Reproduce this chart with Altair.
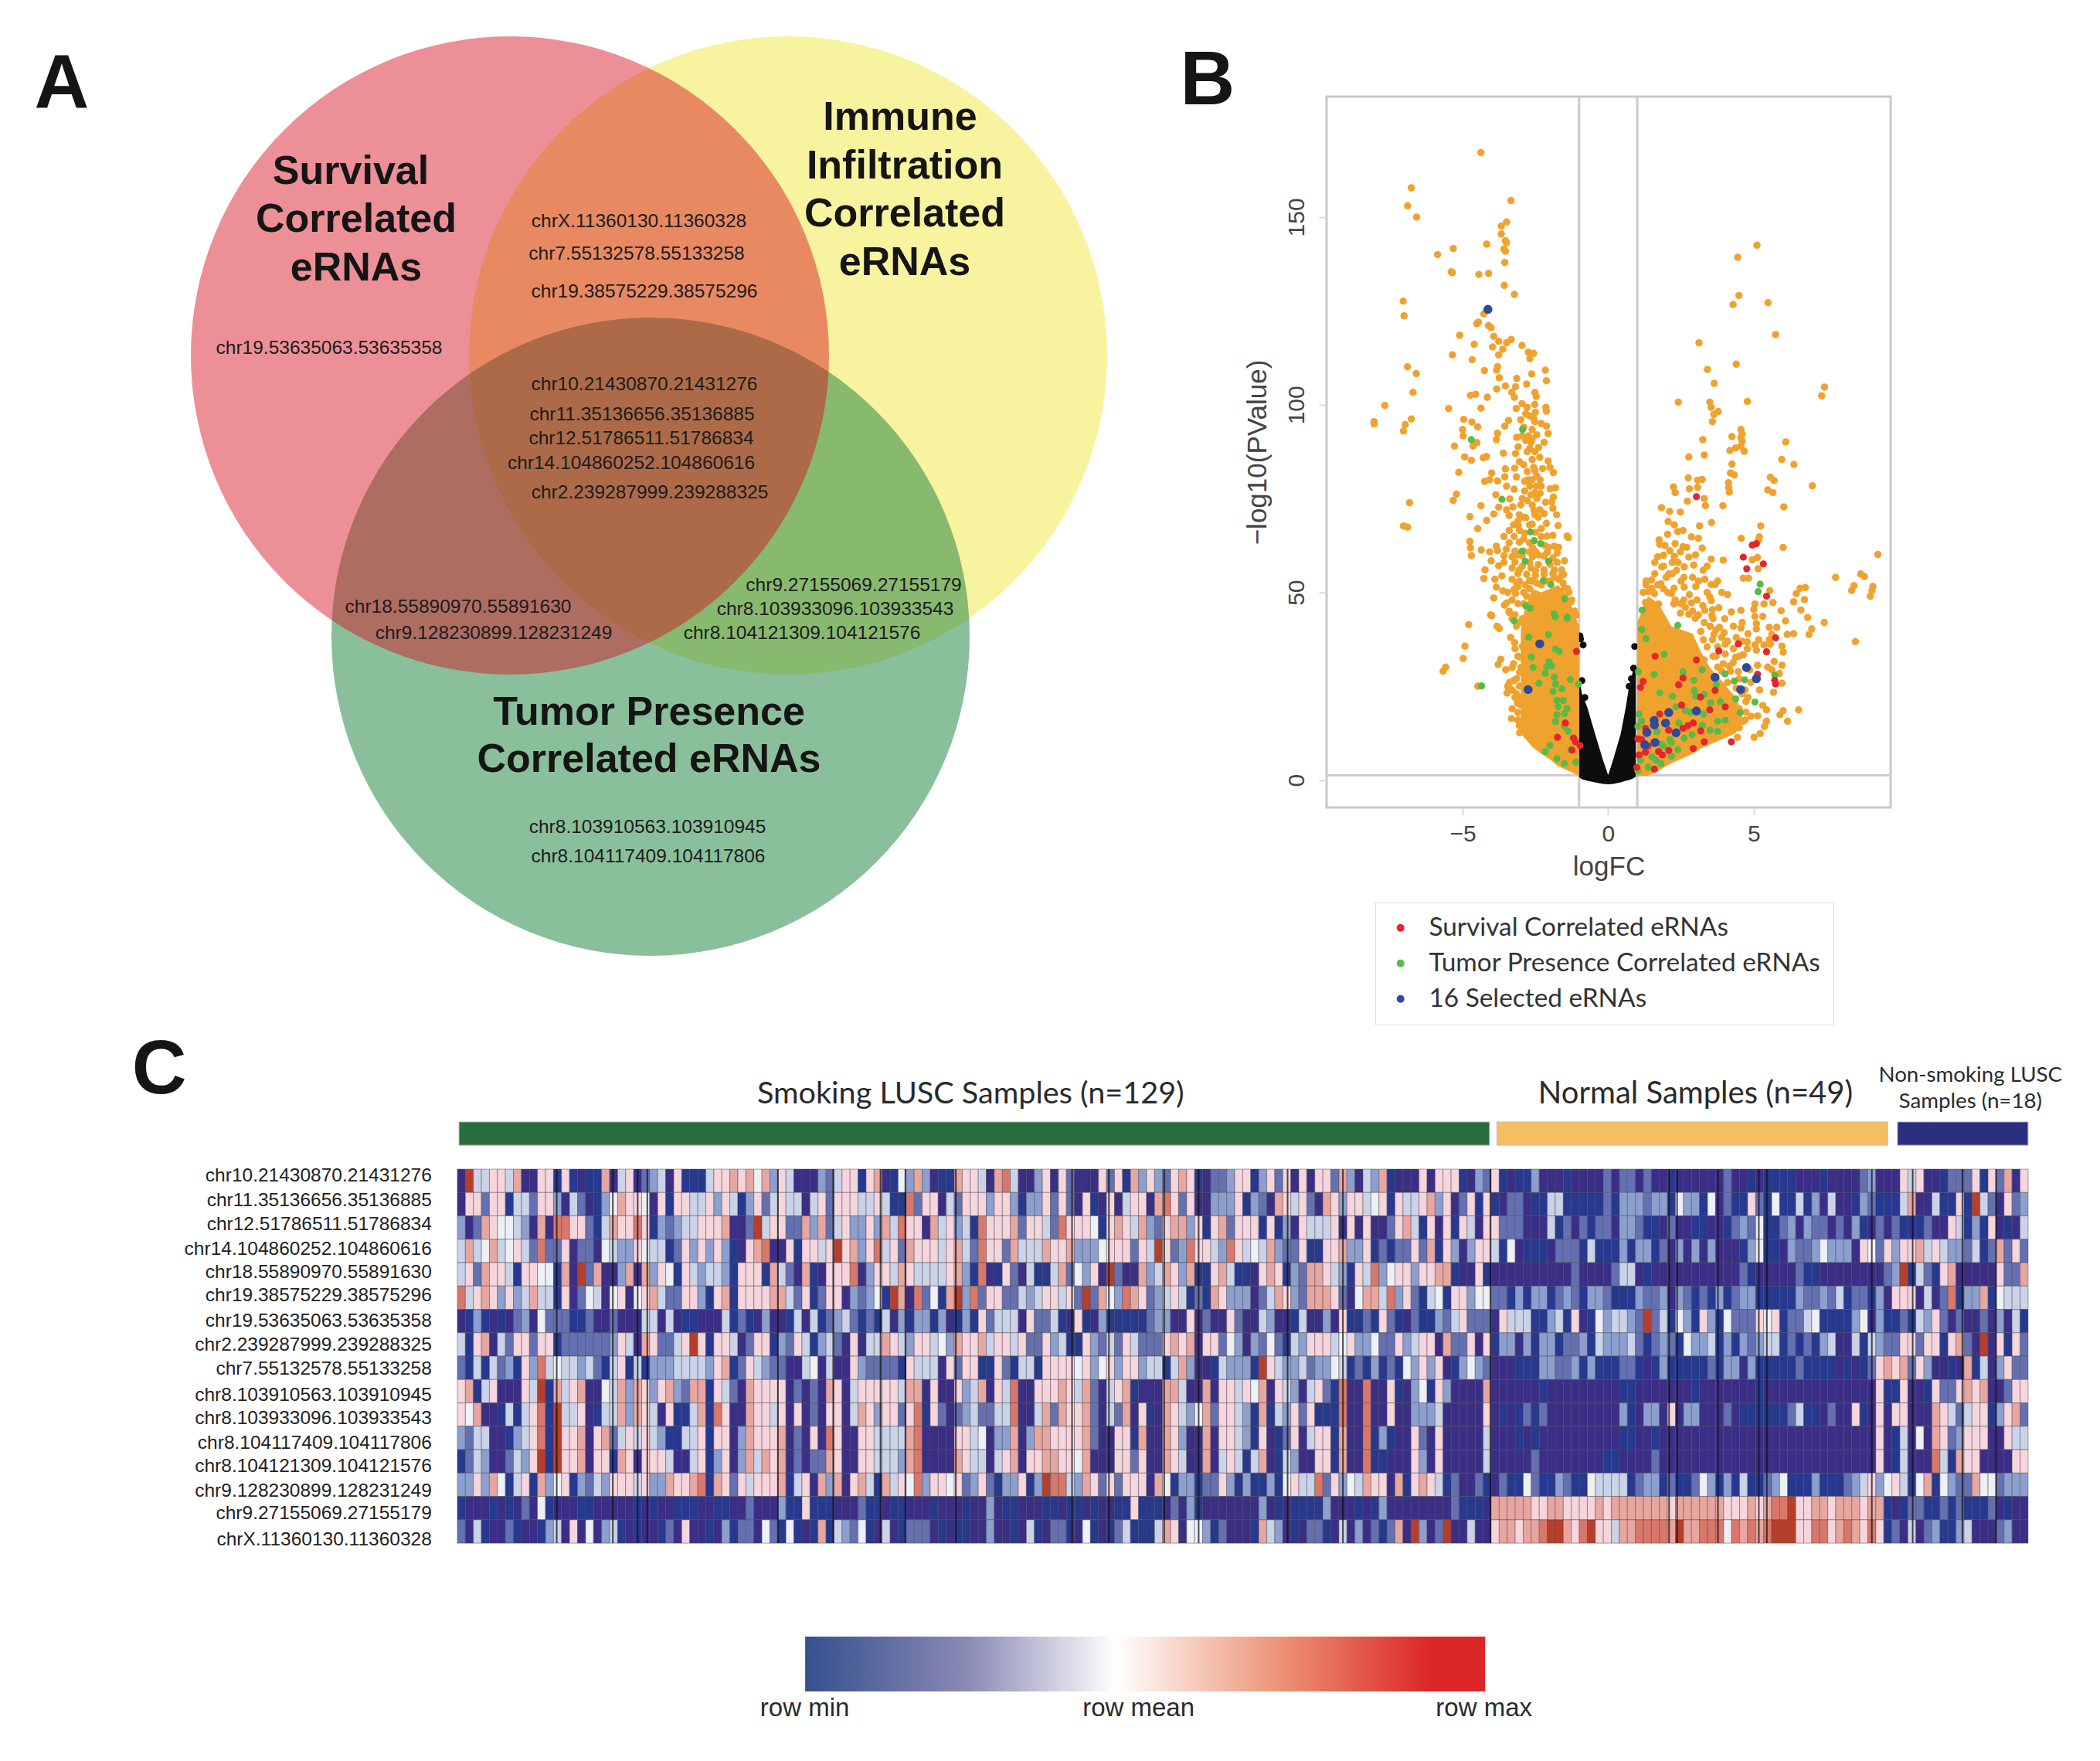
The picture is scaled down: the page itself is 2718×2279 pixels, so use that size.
import altair as alt
import pandas as pd

# ---------- Panel A ----------
venn_sets = [("Immune", 1020, 460, "#F8F39E", 1.0), ("Tumor", 842, 824, "#228644", 0.53), ("Survival", 660, 460, "#D6101F", 0.47)]
venn_titles = [("Survival", 454, 222), ("Correlated", 461, 284), ("eRNAs", 461, 347),
               ("Immune", 1165, 152), ("Infiltration", 1171, 215), ("Correlated", 1171, 277), ("eRNAs", 1171, 340),
               ("Tumor Presence", 840, 922), ("Correlated eRNAs", 840, 983)]
venn_labels = [("chrX.11360130.11360328", 827, 287), ("chr7.55132578.55133258", 824, 329),
               ("chr19.38575229.38575296", 834, 378), ("chr19.53635063.53635358", 426, 451),
               ("chr10.21430870.21431276", 834, 498), ("chr11.35136656.35136885", 831, 537),
               ("chr12.51786511.51786834", 830, 568), ("chr14.104860252.104860616", 817, 600),
               ("chr2.239287999.239288325", 841, 638), ("chr18.55890970.55891630", 593, 786),
               ("chr9.128230899.128231249", 639, 820), ("chr9.27155069.27155179", 1105, 758),
               ("chr8.103933096.103933543", 1081, 789), ("chr8.104121309.104121576", 1038, 820),
               ("chr8.103910563.103910945", 838, 1071), ("chr8.104117409.104117806", 839, 1109)]

# ---------- Panel B ----------
orange_left = [(-4.37,167.2),(-6.76,157.8),(-6.89,153),(-6.58,150),(-3.34,154.4),(-3.49,148.7),(-3.67,147.6),(-3.67,145.5),(-3.53,143.7),(-3.49,143.2),(-3.58,141.5),(-3.53,140.9),(-4.17,142.8),(-5.32,141.6),(-5.86,140),(-5.39,135.4),(-5.35,135.2),(-4.44,134.7),(-4.11,135),(-3.55,137.9),(-3.57,131.8),(-3.22,129.4),(-7.04,127.6),(-7.01,123.7),(-4.27,124.2),(-4.51,121.6),(-4.46,122),(-4.11,121.1),(-4.02,120.5),(-3.93,118.2),(-5.1,118.5),(-4.6,116.1),(-3.97,115.4),(-3.76,116.9),(-3.49,116.5),(-3.33,117.4),(-3.62,114.8),(-3.76,113.3),(-2.96,115.8),(-2.74,114),(-2.56,113.7),(-2.69,112.3),(-5.35,113.3),(-4.67,112),(-6.89,110.1),(-6.59,108.3),(-4.25,109.1),(-3.8,110.2),(-3.83,109.2),(-3.74,107.2),(-3.14,107),(-2.63,108.2),(-2.16,109.2),(-2.12,106.4),(-6.7,103.3),(-3.53,105),(-3.83,104.2),(-3.18,104.8),(-2.8,105.5),(-3.31,103.3),(-3.22,102),(-2.52,103.3),(-2.47,102.2),(-4.73,102.5),(-4.55,102.8),(-4.15,102),(-7.67,99.8),(-5.48,99),(-4.37,99.1),(-3.16,99),(-2.96,100.3),(-2.78,99.3),(-2.52,100.1),(-2.83,97.6),(-2.14,99.3),(-2.12,98.3),(-8.04,95.5),(-8.04,94.9),(-6.76,96.2),(-6.97,94.7),(-7.03,93),(-4.96,96.1),(-4.68,95.4),(-4.48,94.1),(-5,93.4),(-4.98,91.7),(-3.42,95.8),(-3.55,94.3),(-2.56,96.4),(-2.52,95.5),(-2.12,94.3),(-2.06,92.3),(-3.8,92.4),(-3.84,90.7),(-2.61,93.4),(-3.14,91.3),(-2.96,91.7),(-2.74,91.7),(-2.83,90.5),(-2.61,90.9),(-4.51,89.9),(-4.64,89),(-5.28,89),(-3.09,88.8),(-2.69,88.4),(-2.39,88.6),(-2.52,87.5),(-2.78,87.5),(-3.6,87.1),(-3.18,87),(-4.93,86.1),(-4.7,85.2),(-4.29,85.9),(-4.18,86.2),(-2.61,85.4),(-2.56,83.3),(-3.05,84.8),(-2.06,85),(-2,83.3),(-1.88,81.9),(-5.13,82),(-3.53,82.9),(-3.21,83.1),(-2.78,82.2),(-2.52,82.5),(-4,81.8),(-3.15,80.8),(-3.55,80.8),(-4.24,79.6),(-4.07,80),(-3.8,79.7),(-2.87,79.6),(-2.61,80),(-2.34,80),(-2.69,78.3),(-2.47,78.3),(-2.3,78.3),(-3.49,78.3),(-3.23,77.5),(-2.87,77),(-2.52,76.6),(-2.34,76.4),(-1.99,77.6),(-1.81,77.9),(-1.88,75.4),(-1.94,74.1),(-5.21,76.2),(-5.32,74.5),(-3.86,76),(-3.38,74.9),(-6.82,73.9),(-4.37,73.1),(-3.76,72.7),(-3.27,72.8),(-3.49,72),(-3,73.3),(-2.78,74.5),(-2.61,73.3),(-2.34,72),(-2.52,70.7),(-1.9,72.4),(-1.77,70.7),(-4.75,70.2),(-3.93,70.9),(-3.4,70.5),(-3.05,70.7),(-2.83,69.9),(-4.17,69.2),(-4.48,67),(-7.03,67.7),(-6.89,67.4),(-2.12,68.4),(-2.61,68.2),(-3.09,67.8),(-1.72,67.8),
(-3.4,66.5),(-3.05,66.5),(-2.87,65.8),(-3.58,64.9),(-3.23,64.9),(-2.9,64.2),(-2.3,64.9),(-1.9,65.2),(-3.4,63.2),(-3.05,63.4),(-2.7,63.2),(-2.17,62.5),(-1.85,62.3),(-1.7,62),(-3.5,61.5),(-3.2,61),(-2.7,60.8),(-2.5,61),(-2.1,60.6),(-1.75,60.5),(-3.58,59.8),(-3.3,59.5),(-2.95,59.8),(-2.6,59.5),(-2.2,59.7),(-1.9,59.2),(-3.58,58),(-3.2,58.1),(-2.7,58),(-2.4,57.4),(-2,57.5),(-2.65,56.5),(-3.3,56.5),(-3.05,56),(-2.5,55.8),(-2.2,56),(-1.85,56),(-2.8,54.8),(-2.5,54.5),(-2.2,54.8),(-1.9,55),(-1.6,54.5),(-3.3,53.5),(-3.05,53),(-2.7,53.1),(-3.23,50.8),(-3.1,51.5),(-1.5,51.2),(-1.35,50),(-1.28,47.5),
(-4.75,63.6),(-4.73,61.9),(-4.7,59.8),(-4.36,61.3),(-4.07,60.8),(-3.84,62.3),(-3.8,61.1),(-4.02,58.4),(-3.76,57.1),(-4.23,56),(-4.27,53.7),(-3.89,53.5),(-3.65,54.4),(-3.84,51.4),(-3.62,50.4),(-3.93,48.5),(-3.14,52.3),(-3.18,49.7),(-3.49,47.2),(-4.04,44),(-3.4,44.7),(-1.41,65),(-1.37,64.6),(-1.5,58.4),(-1.53,54.8),
(-4.79,41.4),(-4.92,35.7),(-4.98,32.4),(-5.58,30.1),(-5.67,29),(-4.48,25),(-4,43.8),(-3.56,46.6),(-3.82,41),(-3.74,40.4),(-3.21,36.6),(-3.69,32.2),(-3.78,30.8),(-3.52,29.4),(-3.3,30),(-3.04,28.7),(-3.39,26),(-3.47,23.2),(-3.12,20.5),(-3.32,16.4),(-3.04,12.6),(-2.77,17),(-3.39,24.6),(-2.95,35.6),(-3.04,32.8),(-2.51,30),(-2.77,27.4),(-3.2,44),(-3.05,42),(-3.3,24),(-3.25,26.5),(-3.15,23),(-3,22),(-3.1,18),(-2.95,15.5),(-2.9,13),(-2.8,12),(-3.45,25),
(-3.4,45),(-3.3,43),(-3.15,41),(-3.35,38),(-3.2,35),(-3.1,33),(-3.25,31),(-3,30),(-3.15,27),(-3.05,25),(-3.2,22),(-3,20),(-3.1,16),(-3.05,14.5),(-3.3,19),(-2.95,43),(-2.9,47),(-2.8,49),(-2.7,51),(-2.6,53),(-2.45,52.5),(-2.3,52),(-2.15,53),(-2,53),(-1.85,54),(-1.7,53.5),(-1.55,52.5),(-1.4,51),(-1.25,48),(-1.15,45),(-1.1,44),(-1.6,56),(-1.75,58),(-2.05,62),(-2.4,60),(-2.6,62),(-2.9,61),(-3.1,60),(-2.95,57),(-3.1,55),(-2.85,52),(-2.9,50),(-3.1,47),(-3.3,48),(-3.45,50),(-2.5,66),(-2.7,68),(-2.3,67),(-2.1,65),(-2.4,70),(-2.2,71),(-2.15,74),(-2.45,75),(-2.65,76),(-2.9,70),(-3.1,69),(-3.25,68),(-2.55,72),(-2.95,75),(-2.75,80),(-2.45,81),(-2.25,83),(-2.9,84),(-2.35,86),(-2.65,90),(-2.45,92),(-2.9,94),(-2.7,97),(-2.5,98),(-3,96),(-2.2,90),(-2.3,95)]
orange_right = [(5.11,142.5),(4.45,139.3),(4.49,129.1),(4.29,126.7),(5.49,127.2),(5.75,118.7),(3.12,116.5),(4.4,110.8),(3.41,109.4),(3.64,105.7),(7.43,104.7),(7.33,102.4),(2.41,100.7),(4.78,100.9),(3.49,100.7),(3.54,99.3),(3.78,98.2),(3.63,97.4),(3.58,95.5),(4.56,93.4),(4.6,92.2),(4.56,91.3),(4.6,90.3),(4.25,91.5),(3.25,90.7),(6.1,90.1),(4.56,88.9),(4.38,88.5),(4.18,87.8),(4.67,87.6),(2.77,86.1),(3.3,86.6),(5.96,85.4),(6.38,84.1),(4.25,84.2),(4.2,81.8),(4.33,81.3),(2.75,80.5),(3.07,79.9),(3.23,80.1),(5.57,80.7),(5.7,79.8),(7.01,78.4),(4.13,79.2),(4.14,77.9),(4.16,76.7),(2.24,78.1),(2.3,76.6),(2.79,77.6),(3.07,78),(5.48,77.3),(5.66,76.6),(2.72,74.3),(3.3,75),(3.34,73.1),(3.94,73.1),(6.03,72.8),(1.83,72.6),(2.11,71.6),(2.48,71.4),(2.06,68.9),(2.27,68),(3.14,67.7),(3.55,68.6),(5.24,67.7),(2.04,65.5),(2.39,66.2),(2.57,66.5),(2.86,64.8),(3.1,64.4),(4.57,64.4),(5.19,64.8),(5.16,63.9),(1.77,62.8),(1.95,62.5),(2.12,61.1),(2.57,62.2),(2.48,60.8),(3.23,61.8),(6.01,62),(1.9,59.9),(2.27,59.6),(2.77,59.4),(3.54,58.9),(3.95,58.6),(4.95,58.7),(5.13,59.3),(9.26,60.1),(1.84,56.8),(2.61,56.8),(2.94,57.3),(2.35,55.9),(2.08,54.9),(3.26,55.9),(5.15,56.3),(1.49,53.3),(1.99,54),(4.64,53.8),(4.82,53.8),(7.81,54),(8.67,54.9),(8.8,54.2),(1.81,52.3),(2.61,51.4),(2.26,51.1),(3.01,51.6),(3.32,53.5),(3.54,52.1),(3.76,53),(3.67,52.1),(8.44,51.8),(8.36,50.5),(9.09,51.6),(9.06,50.5),(9,49),(6.59,51.1),(6.77,51.3),(6.46,49.7),(6.37,47.5),(6.74,48.1),(5.55,50.5),(1.37,50.2),(1.59,49.7),(2.17,49.7),(2.79,49.4),(4.1,49.4),(3.49,48.8),(2.86,47.2),(3.54,47.8),(5.66,47.3),(5.35,46.9),(5.04,46.9),(1.28,47.3),(1.73,46.9),(2.26,46.9),(3.8,45.9),(3.58,45.4),(3.32,45.2),(5,45.5),(4.56,45.2),(4.23,44.8),(5.94,45.1),(6.62,45.3),(2.48,44.5),(2.77,44.2),(2.99,43.1),(3.56,43.9),(5.04,43.6),(5.31,43.6),(6.85,43.3),(6.09,42.4),(7.42,42),(5.09,41.7),(4.56,40.5),(3.82,40.7),(5.09,40.3),(5.53,40.7),(5.79,40.7),(6.99,40.3),(6.9,38.8),(6.15,38.8),(6.37,39),(3.18,39.6),(3.63,38.8),(3.98,39.3),(5.62,38.8),(8.49,36.9),(3.27,37.4),(3.58,37.4),(5.17,37.4),(5.53,37.4),(5.97,35.7),(4.02,36.2),(4.78,36.8),(5.04,36),(5.35,36),(5.57,36.2),(3.76,35.5),(6.01,34.1),(4.78,35),(5.09,34.6),(4.02,33.6),(4.64,33.4),(4.38,32.7),(4.29,31.3),(5.7,31.6),(5.97,30.6),(5.48,30.1),(5.62,29.4),(5.13,30.6),(4.86,29.4),(3.76,30.1),(4.16,30.3),(4.47,28.9),(5.88,28.4),(5.97,25.8),(5.68,23.4),(4.73,20.9),(5.31,19.9),(5.44,18.7),(6.01,18.5),(5.9,17.4),(6.54,18.7),(6.16,15.7),(5.13,17.1),(4.73,18.1),(4.64,15.7),(5.44,15.7),(5.37,14.3),(5.22,12.4),(5.01,11.4),(4.44,11.4),(3.6,33),(3.3,32),(3.9,29),(3.5,28),(4.1,26),(4.4,24.5),(4.6,23),(4.8,22),(2.9,33),(2.6,35),(2.3,37.5),
(1.2,50),(1.3,52),(1.5,51),(1.7,52),(1.9,51),(2.05,50),(2.3,48),(2.5,47),(2.65,46),(2.9,45),(3.1,44),(3.3,42),(3.5,41),(3.7,40),(3.9,38),(4.1,37),(4.3,35),(4.5,33),(3.4,35.5),(3.7,33),(3.95,31),(4.2,29),(4.5,27),(4.7,24),(4.9,26),(5.2,24),(4.3,20),(4.5,19),(4.7,16),(4.9,17),(4.5,14),(4.2,13.5),(2.2,55),(2.5,53),(2.9,54),(3.1,53),(3.4,50),(3.9,50),(2.6,48),(3.05,48),(3.25,46.5),(3.6,43),(4,43),(4.3,41),(4.6,42),(4.8,39),(4.4,38),(4.6,37),(1.6,55),(1.9,57),(1.6,58),(2.2,58),(2.4,58),(2.6,54),(1.7,59.5),(1.75,64),(2.3,63),(2.7,62),(3.4,57),(3,60),(1.3,53)]
left_cloud_x = [-3.0, -2.85, -2.6, -2.3, -2.0, -1.72, -1.37, -1.1, -1.0]
left_cloud_low = [12.6, 11, 8.8, 7, 5.5, 3.7, 2.5, 1.5, 1.3]
left_cloud_high = [40, 46, 51, 50, 51, 52, 49, 43, 41]
right_cloud_x = [1.0, 1.37, 1.73, 2.17, 2.9, 3.2, 3.49, 3.95, 4.38, 4.6]
right_cloud_low = [1, 1.2, 2.5, 4.5, 7, 8.5, 9.5, 11, 12.5, 15]
right_cloud_high = [42, 49, 47, 41, 39, 34, 30, 26, 22, 18]
black_x = [-1.0, -0.97, -0.9, -0.71, -0.45, -0.18, 0, 0.17, 0.43, 0.6, 0.72, 0.85, 0.95]
black_low = [1.0, 0.6, 0.2, -0.2, -0.6, -1.0, -1.1, -1.0, -0.6, -0.2, 0.0, 0.4, 0.9]
black_high = [27, 26, 23, 19.2, 12.3, 5.4, 1.3, 5.4, 12.3, 19.2, 25, 29, 31]
black_dots = [(-0.97,38.4),(-0.86,36),(-0.95,37.6),(0.91,35.6),(0.87,29.8),(0.8,27),(0.72,25),(-0.9,26.5),(-0.8,22),(-0.85,18),(0.78,20),(0.76,16)]
green = [(-2.94,93.4),(-4.7,90.7),(-3.65,74.8),(-2.67,66.1),(-2.54,63.8),(-2.32,63),(-2.96,61),(-2.85,58.3),(-2.05,58.3),(-2.23,53.1),(-1.97,52.1),(-1.5,48.3),(-2.83,46.4),(-2.68,45.8),(-1.86,44.3),(-1.41,43.4),(-1.82,43.5),(-1.41,43.1),(-3.23,42.4),(-2.73,38.1),(-2.05,38.7),(-1.81,34.9),(-1.68,34.3),(-2.64,32.8),(-2.58,30),(-2.03,31.5),(-2.11,30.1),(-1.94,30.4),(-2.16,28.4),(-1.85,27.4),(-1.3,26.8),(-2.38,25.8),(-1.81,25.6),(-1.02,25.6),(-1.59,24.3),(-1.89,23.6),(-1.76,21.2),(-1.54,21.2),(-1.72,19.5),(-1.41,19.1),(-1.76,17.4),(-1.5,17.7),(-1.81,15.6),(-1.5,14.3),(-1.37,13),(-1.28,8.1),(-2,9.2),(-2.16,7.6),(-1.76,5.7),(-1.5,4.4),(-1.11,4.7),(-4.35,25.1),
(1.17,45.3),(1.15,40.1),(1.3,37.7),(2.39,41.2),(1.92,33.5),(1.04,28.9),(1.58,28.2),(1.77,23.2),(2.21,22.3),(2.57,28.9),(3.23,29.4),(2.94,26.6),(4.01,28.3),(4.33,26.4),(4.69,26.7),(3.71,25.4),(2.96,23.9),(3.01,22.3),(3.3,22.8),(3.52,20.6),(3.85,20.9),(4.38,21.6),(5.04,20.8),(4.53,18),(5.22,52.2),(5.15,50.2),(5.72,28),(2.65,18.5),(2.33,19.5),(1.06,17.6),(1.15,15.7),(1.02,14.3),(3.27,17.6),(3.76,15.7),(4.02,15.9),(2.83,18.1),(2.43,15.2),(1.68,12.9),(3.23,14.6),(3.5,13.3),(3.76,13),(2.88,12.1),(2.61,11.2),(2.12,10.8),(1.81,9.6),(2.39,8.1),(2.17,6.4),(1.5,6.2),(1.64,5.3),(1.11,5.3),(1.02,2.5),(1.37,3.4),(1.81,4.4),(1.9,9.1),(2.17,10)]
red = [(3.03,75.5),(4.95,62.6),(5.09,63),(4.64,59.4),(5.33,57.6),(4.76,56.3),(5.44,49),(5.75,37.9),(4.47,36.3),(3.8,34.4),(5.44,34.2),(1.61,33),(3.03,32),(5.72,26.6),(5.75,25.6),(5.13,28.2),(2.57,27.2),(1.2,26.3),(1.11,24.7),(2.42,25.4),(3.67,23.9),(3.17,22.1),(2.52,20),(4.02,19.5),(3.49,18.7),(1.77,17.6),(2.92,15.2),(2.74,14.5),(2.57,13.8),(2.08,13.3),(1.28,13.8),(3.18,13.1),(3.3,10.2),(4.23,10.2),(2.92,8.4),(1.02,11),(1.15,10.8),(1.06,6.7),(1.28,7.4),(1.86,6.7),(2.08,7.9),(1.59,2.9),(0.98,3.4),(1.73,7.6),(1.37,9.1),(-1.09,34.3),(-1.47,15.2),(-1.74,11.4),(-1.19,11.2),(-1.12,10.2),(-0.97,9.2),(-1.24,8)]
blue = [(-4.13,125.4),(-2.35,36.3),(-2.75,24.1),(4.75,30),(3.67,27.4),(5.09,27),(4.55,24.1),(3.03,18.4),(2.08,18),(1.58,15.9),(1.59,14.7),(1.97,15.2),(2.33,12.6),(1.33,12.7),(1.61,10),(1.26,9.4)]
fc_cuts = [-1, 1]
p_cut = [1.3]
x_ticks = [-5, 0, 5]
y_ticks = [0, 50, 100, 150]
group_names = ["Other eRNAs", "Survival Correlated eRNAs", "Tumor Presence Correlated eRNAs", "16 Selected eRNAs"]
group_colors = ["#F0A22E", "#E3262E", "#5BB947", "#2F4A9B"]

# ---------- Panel C ----------
row_names = ["chr10.21430870.21431276","chr11.35136656.35136885","chr12.51786511.51786834","chr14.104860252.104860616",
             "chr18.55890970.55891630","chr19.38575229.38575296","chr19.53635063.53635358","chr2.239287999.239288325",
             "chr7.55132578.55133258","chr8.103910563.103910945","chr8.103933096.103933543","chr8.104117409.104117806",
             "chr8.104121309.104121576","chr9.128230899.128231249","chr9.27155069.27155179","chrX.11360130.11360328"]
row_label_pos = [.30,1.36,2.38,3.45,4.43,5.42,6.51,7.54,8.56,9.69,10.68,11.73,12.73,13.79,14.75,15.88]
seg1 = ["0944664700661610117046023406111466767573640003246",
"0662661442663042013576650616644636413624644046266",
"3027655430708866214766861323446667002946622737246",
"474574564282260220543365441263636310678006166469 6",
"462766416655170927003707365164344316661742071066 6",
"84676363474 41602540560567422663167166667 7 42 6 1 2 6 6",
"013101023052 2 2 1 1 2 0 0 2 0 0 0 4 4 0 4 0 1 1 0 0 0 4 1 2 1 0 3 0 0 1 4 0 4 1 2 3 4",
"4167042 6 6 2 6 6 1 2 2 2 2 2 2 3 6 4 0 7 6 2 2 4 6 9 6 1 6 6 4 0 2 6 6 1 3 2 6 4 1 3 4 2",
"2141423 1 6 3 8 4 5 4 4 3 4 2 1 4 6 1 4 1 3 3 3 4 4 4 4 3 6 7 1 2 6 4 3 2 2 0 0 4 5 0 4 0",
"6714600 0 6 4 9 1 7 4 6 7 0 0 5 4 7 3 7 6 3 6 7 3 2 7 7 1 6 4 2 0 7 6 6 6 6 0 2 0 2 0 7 6",
"6570014 1 4 6 8 1 9 4 4 6 0 1 4 4 7 3 7 6 4 0 6 1 1 4 7 1 8 6 0 0 7 6 6 4 6 0 6 0 2 0 6 6",
"3244001 3 4 6 8 1 9 6 6 7 0 6 7 2 4 6 4 6 4 3 1 1 4 4 6 1 6 6 0 3 7 6 6 6 7 0 2 0 6 0 8 6",
"1243002 4 3 6 9 1 9 6 6 7 0 6 6 1 7 6 0 6 6 6 4 0 0 4 6 1 3 6 0 3 7 4 7 6 7 0 2 0 2 2 7 6",
"3363751 4 6 1 7 3 5 6 1 3 2 4 3 6 6 6 4 6 3 3 7 6 6 7 8 1 7 6 2 6 4 6 6 6 7 1 4 6 0 7 3 7",
"1000101 0 2 0 5 1 0 0 0 1 1 0 0 0 0 0 1 0 1 0 0 1 1 1 0 0 1 1 0 0 2 0 0 0 3 1 1 6 1 1 1 0 0 0",
"2041002 1 0 0 1 3 4 0 6 0 5 0 3 4 1 0 1 0 0 1 2 0 6 0 0 1 0 3 1 2 2 0 5 2 1 5 1 0 1 7 1 4 3"]
seg2 = ["6 1 6 7 0 1 5 3 7 3 0 1 1 7 6 6 4 0 7 8 4 0 0 3 6 0 6 2 0 0 0 6 2 6 1 7 3 6 3 2 6 7 6 1 0 2 2 3 6",
"6 4 4 6 4 1 1 8 2 6 6 0 4 2 6 6 6 3 6 6 3 1 3 3 6 2 6 2 0 6 1 0 6 0 4 6 6 0 7 8 6 2 6 0 0 3 3 3 6",
"3 3 6 3 7 4 8 6 6 0 7 4 6 3 4 1 8 6 6 6 7 2 6 6 4 2 8 6 6 6 5 1 6 7 6 4 7 3 2 6 7 7 3 6 1 6 7 2 6",
"7 3 6 8 4 6 2 7 6 6 6 4 6 7 4 2 8 6 6 2 7 4 4 4 7 6 6 7 3 3 3 5 6 6 6 2 6 4 9 6 2 3 8 6 6 4 3 8 6",
"8 0 3 6 6 4 7 6 4 4 4 4 6 7 3 1 8 0 1 6 2 0 4 1 1 4 7 2 5 3 6 0 9 2 0 0 7 3 4 7 6 3 7 1 1 6 7 4 1",
"3 2 3 5 1 9 7 0 8 2 5 1 7 9 3 8 2 6 6 2 2 4 3 4 6 6 4 6 2 9 2 7 5 3 8 7 6 2 3 4 6 4 1 2 1 7 6 3 3",
"2 1 2 1 4 0 3 1 3 3 1 3 0 1 3 1 6 2 4 4 4 0 6 2 2 4 1 0 6 1 0 3 1 1 1 1 1 2 3 3 0 0 6 0 2 0 0 6 2",
"6 0 4 4 7 6 4 3 6 6 4 5 3 7 6 6 7 4 6 6 4 6 2 2 6 3 4 1 1 6 3 2 4 2 6 4 2 2 2 6 7 6 7 0 6 6 2 5 3",
"6 3 2 2 2 2 1 6 4 4 4 0 6 2 6 6 1 1 6 2 1 4 4 1 6 6 6 6 5 6 3 5 6 3 6 6 3 4 4 1 4 7 3 0 0 1 4 3 3",
"4 6 6 6 6 6 4 7 7 0 6 0 0 6 3 4 7 0 6 4 8 0 0 6 6 6 7 6 4 7 2 0 4 6 7 1 0 0 0 7 7 4 0 0 7 0 6 6 4",
"4 7 6 3 6 6 2 6 8 1 6 2 0 2 3 4 2 2 4 4 8 0 0 4 7 2 7 6 6 7 2 0 4 2 7 0 6 1 0 7 6 4 3 5 7 2 6 6 4",
"0 6 6 4 4 4 4 7 8 0 0 0 0 6 6 4 5 0 3 3 7 0 3 7 7 6 6 6 6 7 2 0 0 6 6 1 7 0 0 7 6 3 0 0 7 0 6 6 4",
"0 6 6 4 4 4 3 7 8 0 0 0 0 7 6 4 4 0 4 6 7 0 6 6 7 7 6 6 5 7 0 0 0 6 6 2 6 0 0 7 6 4 0 0 7 0 4 6 4",
"6 7 4 1 7 4 6 5 8 3 6 6 5 6 2 3 6 2 1 3 3 6 1 3 9 8 8 4 3 7 6 2 6 2 6 6 6 0 7 5 1 3 3 1 2 2 6 3 1",
"0 2 1 1 0 1 1 0 0 0 1 0 0 0 1 0 0 3 0 1 1 0 0 0 1 1 0 1 1 0 1 0 0 1 1 6 1 1 1 0 2 0 3 1 0 0 0 0 0",
"2 5 1 0 4 0 1 2 2 2 0 1 0 1 1 0 0 3 0 0 1 0 4 1 0 2 2 1 0 5 1 0 1 2 4 1 1 1 4 7 6 0 5 5 3 1 2 0 0"]
seg3 = ["6 1 3 6 2 6 0 6 0 6 6 2 7 3 0 4 3 7 1 0 0 0 6 0 6 6 6 1 0 3 2 6 1 0 1 1 3 0 0 0 1 0 0 0 0 2 0 2 2",
"1 3 2 0 7 6 4 6 2 0 7 6 3 6 6 4 5 6 1 6 4 4 6 7 3 6 0 2 6 1 6 1 0 2 2 0 1 1 4 4 1 1 1 1 1 2 1 3 3",
"6 6 1 6 1 3 0 6 4 4 4 6 0 6 0 6 0 0 2 6 7 4 1 6 0 6 1 6 4 0 6 6 2 2 2 0 0 0 4 1 2 0 2 1 2 2 0 3 3",
"4 5 4 7 3 2 2 6 1 1 6 6 7 3 3 6 1 2 1 2 2 6 2 7 1 6 3 0 3 6 6 4 1 5 0 1 1 1 0 2 2 2 1 4 1 1 1 3 1",
"1 0 6 7 6 1 3 2 7 7 6 4 3 1 6 4 8 3 5 6 6 3 6 6 7 7 1 0 0 6 1 0 0 0 0 0 0 0 0 0 0 2 0 0 0 0 2 4 4",
"3 0 2 4 7 6 3 2 7 7 7 6 2 0 5 7 7 4 8 3 6 2 1 4 5 1 6 6 3 5 5 2 2 1 3 1 3 3 1 2 3 2 1 3 3 2 1 1 1",
"0 0 4 3 0 0 1 4 0 0 3 0 6 1 1 2 1 6 2 1 0 2 1 1 3 2 4 6 2 2 2 0 6 4 4 4 1 1 3 4 1 6 0 1 5 3 4 4 3",
"0 3 2 5 2 1 4 3 6 6 6 4 5 6 3 3 5 2 2 6 3 4 6 6 0 7 2 2 6 0 6 1 3 3 0 3 1 3 3 1 2 2 3 1 4 3 3 3 4",
"3 1 9 6 4 3 3 4 2 3 3 5 4 1 2 1 3 1 2 1 5 3 6 3 6 0 1 3 5 3 2 0 0 0 1 1 1 3 3 2 2 3 1 3 1 1 1 2 2",
"6 5 7 0 6 4 3 0 4 6 2 1 8 0 0 8 0 0 6 1 0 3 5 1 6 3 0 0 0 0 7 0 0 0 0 0 0 1 0 0 0 0 0 0 0 0 0 1 1",
"3 1 7 1 4 3 6 2 6 1 1 1 8 0 0 8 0 0 6 0 0 3 3 3 4 0 0 0 0 0 6 0 1 0 1 2 1 2 0 0 0 0 0 0 0 0 0 3 1",
"3 1 6 0 1 2 6 0 4 6 6 1 7 0 0 8 1 3 1 0 0 6 2 0 6 0 0 0 0 0 4 0 0 0 1 0 1 0 0 0 0 0 0 0 0 0 0 1 1",
"1 4 7 0 1 4 3 0 0 6 6 1 7 0 0 8 1 1 0 0 0 6 3 0 6 0 0 0 0 0 4 0 0 0 0 0 2 0 0 0 0 0 0 0 0 1 1 0 0",
"3 1 1 3 1 5 6 4 4 8 2 6 3 5 4 7 6 6 0 7 1 6 7 6 4 1 2 0 0 2 1 0 2 1 1 5 2 1 1 3 2 1 1 5 4 4 4 4 1",
"0 0 3 0 1 0 1 1 1 1 3 0 0 0 1 0 1 3 0 0 0 0 0 0 0 0 2 1 1 1 0 7 7 7 7 7 6 6 7 7 6 6 6 6 7 6 7 7 7",
"0 1 7 4 3 0 1 0 2 2 1 0 4 0 3 0 2 1 2 7 0 9 3 0 2 9 0 0 4 0 0 6 7 7 6 7 7 8 9 9 7 6 8 9 6 6 4 7 7"]
seg4 = ["0 2 0 0 1 0 0 0 0 0 0 2 0 0 1 0 1 1 1 1 0 0 0 1 0 0 0 0 2 3 0 0 0 6 4 6 0 0 1 2 2 2 6 1 6 2 7 0 6",
"3 2 3 3 1 5 3 3 1 5 0 2 1 1 6 2 1 5 1 1 4 1 3 0 4 0 0 1 3 2 1 1 1 4 7 0 0 4 1 1 6 1 9 4 2 0 6 2 3",
"2 1 1 0 2 0 0 1 1 0 0 1 2 3 2 5 1 1 2 3 0 3 2 2 0 2 0 3 1 0 2 0 2 1 1 1 2 0 0 6 4 1 3 1 6 0 1 0 4",
"3 3 1 2 0 3 0 3 0 3 0 0 0 1 3 5 1 1 0 3 2 2 3 5 3 3 3 0 6 5 2 6 3 6 6 7 4 6 4 3 3 2 4 1 2 7 2 6 2",
"0 1 0 0 0 0 0 0 0 0 0 0 0 2 1 0 0 0 0 0 2 1 1 0 0 0 0 0 0 0 0 2 3 9 1 4 2 1 6 7 0 0 0 0 0 6 2 2 7",
"3 2 2 3 0 3 2 1 2 1 3 1 2 3 3 1 1 1 1 1 3 2 2 3 2 4 1 2 2 1 3 0 6 6 6 0 4 0 2 8 1 3 3 7 1 5 4 4 4",
"2 9 2 4 1 5 3 1 6 3 1 5 2 2 2 6 5 6 1 2 2 4 5 1 1 1 1 3 5 0 3 1 1 2 1 4 3 6 2 0 2 0 0 2 0 3 0 4 1",
"2 1 2 3 2 1 5 3 3 4 1 3 1 3 2 3 4 4 1 2 1 2 1 3 4 0 0 4 1 4 3 2 2 6 6 2 6 6 1 6 7 2 0 9 0 6 1 6 2",
"1 0 1 3 1 1 1 1 1 2 1 3 3 0 3 1 1 1 1 1 2 1 1 1 1 0 1 0 1 2 6 7 6 7 2 6 3 0 0 1 0 7 1 4 0 3 6 2 2",
"0 0 0 0 0 0 0 1 0 0 0 0 0 0 0 1 0 0 0 0 0 0 0 0 0 0 0 0 0 0 6 1 1 6 0 0 1 6 2 2 6 7 6 7 0 0 2 6 6",
"0 3 3 0 6 0 3 3 0 0 0 2 0 1 1 1 1 1 1 2 4 1 1 0 2 0 0 6 1 0 6 0 6 6 0 0 0 7 6 4 2 4 6 6 1 3 6 7 2",
"0 0 1 0 0 0 0 0 0 0 0 0 0 0 0 0 0 0 0 0 0 0 0 0 0 0 0 0 0 0 6 0 1 4 0 5 0 7 6 2 3 6 6 6 0 0 6 4 4",
"0 0 2 0 0 0 0 0 0 0 0 0 0 0 0 0 0 0 0 0 0 0 0 0 0 0 0 0 0 0 6 0 1 4 0 0 0 8 4 1 7 6 6 0 0 0 0 6 6",
"2 3 3 1 2 1 1 2 5 3 1 3 1 4 1 1 2 3 5 1 1 1 3 1 1 1 2 3 4 6 3 5 6 4 1 5 7 1 5 3 2 2 7 5 5 2 3 3 3",
"7 7 7 7 6 7 7 7 7 7 7 6 6 6 7 6 7 8 8 9 6 6 7 7 6 7 7 7 6 7 7 1 0 1 2 2 1 1 2 1 2 1 1 1 2 0 1 0 0",
"8 8 8 8 7 9 7 7 8 8 8 5 8 7 8 7 8 9 9 9 6 6 8 8 6 7 8 7 6 8 6 1 2 0 4 0 2 3 1 1 3 4 0 0 0 2 3 0 0"]
level_colors = ["#3B2E86","#27398F","#6470B0","#8C9FCE","#CBD3E8","#EDF0F5","#F6D5DC","#E8A6A0","#D9776A","#B63F2B"]
dark_columns = [12.4,19.4,22.5,23.7,40,46.9,52.8,55.9,62.2,76.7,81.3,88.2,92.5,103.6,110.5,128.9,151.2,152.2,157.3,162.4,163.4,176.5,181.6,187.8,192]
sample_groups = [("Smoking LUSC Samples (n=129)", 0.2, 128.8, "#2A6E3C"),
                 ("Normal Samples (n=49)", 129.7, 178.5, "#F6BE62"),
                 ("Non-smoking LUSC Samples (n=18)", 179.7, 196.0, "#2B2F7F")]
group_titles = [("Smoking LUSC Samples (n=129)", 64.05, -3.2, 39.6), ("Normal Samples (n=49)", 154.5, -3.2, 40),
                ("Non-smoking LUSC", 188.8, -4.0, 27.7), ("Samples (n=18)", 188.8, -2.88, 27.7)]
scale_labels = [("row min", 43.35), ("row mean", 85.0), ("row max", 128.1)]
scale_span = (43.4, 128.25, 20.0, 22.34)

HELV = "Liberation Sans"
HUM = "Lato"

# ---------- build A ----------
vx = alt.X("x:Q", axis=None, scale=alt.Scale(domain=[8, 1717], nice=False, zero=False))
vy = alt.Y("y:Q", axis=None, scale=alt.Scale(domain=[8, 1370], reverse=True, nice=False, zero=False))

def venn_text(rows, **mk):
    d = pd.DataFrame(rows, columns=["t", "x", "y"])
    return alt.Chart(d).mark_text(**mk).encode(x=vx, y=vy, text="t:N")

circles = [alt.Chart(pd.DataFrame([{"name": n, "x": x, "y": y}])).mark_circle(size=682276, color=c, opacity=o).encode(x=vx, y=vy)
           for n, x, y, c, o in venn_sets]
panel_a = alt.layer(*circles,
    venn_text(venn_titles, font=HELV, fontSize=52, fontWeight="bold", color="#151515"),
    venn_text(venn_labels, font=HELV, fontSize=24.5, color="#1c1c1c"),
    venn_text([("A", 80, 110)], font=HELV, fontSize=98, fontWeight="bold", color="#151515"),
).properties(width=1709, height=1362)

# ---------- build B ----------
bx = alt.X("x:Q", title="logFC", scale=alt.Scale(domain=[-9.67, 9.70], nice=False, zero=False),
           axis=alt.Axis(values=x_ticks, grid=False, domain=False, tickColor="#d8d8d8", tickSize=10, tickWidth=2,
                         labelFontSize=30, labelFont=HELV, labelColor="#444444", labelPadding=9,
                         titleFont=HELV, titleFontSize=35, titleFontWeight="normal", titleColor="#444444", titlePadding=10))
by = alt.Y("y:Q", title="\u2212log10(PValue)", scale=alt.Scale(domain=[-7.3, 182.1], nice=False, zero=False),
           axis=alt.Axis(values=y_ticks, grid=False, domain=False, tickColor="#d8d8d8", tickSize=10, tickWidth=2,
                         labelAngle=-90, labelAlign="center", labelBaseline="bottom", labelFontSize=30, labelFont=HELV,
                         labelColor="#444444", labelPadding=14,
                         titleFont=HELV, titleFontSize=35, titleFontWeight="normal", titleColor="#444444", titlePadding=18))
color_enc = alt.Color("group:N", scale=alt.Scale(domain=group_names, range=group_colors),
                      legend=alt.Legend(values=group_names[1:], title=None, orient="none", legendX=63, legendY=1043,
                                        strokeColor="#dddddd", fillColor="white", padding=16, labelFont=HUM, labelFontSize=33.4,
                                        labelColor="#333333", symbolType="circle", symbolSize=100, labelLimit=800,
                                        rowPadding=11, labelOffset=20, symbolStrokeWidth=0))

def pts(rows, group, size):
    d = pd.DataFrame(rows, columns=["x", "y"]).assign(group=group)
    return alt.Chart(d).mark_circle(size=size, opacity=1).encode(x=alt.X("x:Q"), y=alt.Y("y:Q"), color=color_enc)

def envelope(xs, lo, hi, color):
    d = pd.DataFrame({"x": xs, "y": lo, "y2": hi})
    return alt.Chart(d).mark_area(color=color, opacity=1).encode(x=alt.X("x:Q"), y=alt.Y("y:Q"), y2="y2:Q")

guide_base = alt.Chart(pd.DataFrame({"x": fc_cuts})).mark_rule(color="#cbcbcb", strokeWidth=3).encode(x=bx)
guide_h = alt.Chart(pd.DataFrame({"y": p_cut})).mark_rule(color="#cbcbcb", strokeWidth=3).encode(y=by)
black_pts = alt.Chart(pd.DataFrame(black_dots, columns=["x", "y"])).mark_circle(size=80, color="#0d0d0d", opacity=1).encode(x="x:Q", y="y:Q")

panel_b = alt.layer(
    guide_base, guide_h,
    envelope(black_x, black_low, black_high, "#0d0d0d"), black_pts,
    envelope(left_cloud_x, left_cloud_low, left_cloud_high, "#F0A22E"),
    envelope(right_cloud_x, right_cloud_low, right_cloud_high, "#F0A22E"),
    pts(orange_left, group_names[0], 90), pts(orange_right, group_names[0], 90),
    pts(green, group_names[2], 85), pts(red, group_names[1], 85), pts(blue, group_names[3], 135),
).properties(width=730, height=920, view=alt.ViewBackground(stroke="#c8c8c8", strokeWidth=3))

letter_b = alt.Chart(pd.DataFrame([{"t": "B"}])).mark_text(font=HELV, fontSize=98, fontWeight="bold", color="#151515").encode(
    x=alt.value(-154), y=alt.value(98), text="t:N").properties(width=730, height=117)

# ---------- build C ----------
hx = alt.X("sx:Q", axis=None, scale=alt.Scale(domain=[-56.3, 204.2], nice=False, zero=False))
hy = alt.Y("sy:Q", axis=None, scale=alt.Scale(domain=[-4.727, 25.02], reverse=True, nice=False, zero=False))

cells = []
for r in range(16):
    row = "".join(s.replace(" ", "")[:49].ljust(49, "0") for s in (seg1[r], seg2[r], seg3[r], seg4[r]))
    for i, ch in enumerate(row):
        if i < 196:
            cells.append({"sx": i, "sx2": i + 1, "sy": r, "sy2": r + 1, "level": int(ch)})
heat = alt.Chart(pd.DataFrame(cells)).mark_rect(stroke="#4a4a55", strokeWidth=0.9, strokeOpacity=0.55).encode(
    x=hx, x2="sx2:Q", y=hy, y2="sy2:Q",
    color=alt.Color("level:O", scale=alt.Scale(domain=list(range(10)), range=level_colors), legend=None))
dark = alt.Chart(pd.DataFrame({"sx": dark_columns, "sy": 0, "sy2": 16})).mark_rule(color="#111111", strokeWidth=2, opacity=0.75).encode(
    x=hx, y=hy, y2="sy2:Q")
ann = alt.Chart(pd.DataFrame([{"sx": a, "sx2": b, "sy": -2.02, "sy2": -1.02, "c": c} for _, a, b, c in sample_groups])).mark_rect(
    stroke="#c4c4c4", strokeWidth=1).encode(x=hx, x2="sx2:Q", y=hy, y2="sy2:Q", fill=alt.Fill("c:N", scale=None))

def heat_text(d, **mk):
    return alt.Chart(d).mark_text(**mk).encode(x=hx, y=hy, text="t:N")

row_txt = heat_text(pd.DataFrame({"t": row_names, "sx": -3.2, "sy": row_label_pos}), font=HELV, fontSize=24.5, align="right", color="#222222")
title_layers = [heat_text(pd.DataFrame([{"t": t, "sx": x, "sy": y}]), font=HUM, fontSize=fs, color="#2a2a2a") for t, x, y, fs in group_titles]
letter_c = heat_text(pd.DataFrame([{"t": "C", "sx": -37.2, "sy": -4.2}]), font=HELV, fontSize=98, fontWeight="bold", color="#151515")
grad = alt.LinearGradient(gradient="linear", x1=0, x2=1, y1=0, y2=0, stops=[
    alt.GradientStop(color="#36508F", offset=0), alt.GradientStop(color="#8A8AB5", offset=0.24),
    alt.GradientStop(color="#FFFFFF", offset=0.457), alt.GradientStop(color="#EC9274", offset=0.7),
    alt.GradientStop(color="#DC2628", offset=0.92), alt.GradientStop(color="#DC2628", offset=1)])
bar = alt.Chart(pd.DataFrame([{"sx": scale_span[0], "sx2": scale_span[1], "sy": scale_span[2], "sy2": scale_span[3]}])).mark_rect(fill=grad).encode(
    x=hx, x2="sx2:Q", y=hy, y2="sy2:Q")
bar_txt = heat_text(pd.DataFrame([{"t": t, "sx": x, "sy": 23.07} for t, x in scale_labels]), font=HELV, fontSize=33, color="#2a2a2a")

panel_c = alt.layer(heat, dark, ann, row_txt, *title_layers, letter_c, bar, bar_txt).properties(width=2702, height=900)

right_col = alt.vconcat(letter_b, panel_b, spacing=0, bounds="flush").resolve_scale(color="independent").resolve_legend(color="independent")
top = alt.hconcat(panel_a, right_col, spacing=0, bounds="flush").resolve_scale(color="independent").resolve_legend(color="independent")
chart = (alt.vconcat(top, panel_c, spacing=-34, padding=0, background="white")
         .resolve_scale(color="independent").resolve_legend(color="independent")
         .configure_view(stroke=None))
chart.save("out.html", embed_options={"renderer": "svg", "actions": False})
